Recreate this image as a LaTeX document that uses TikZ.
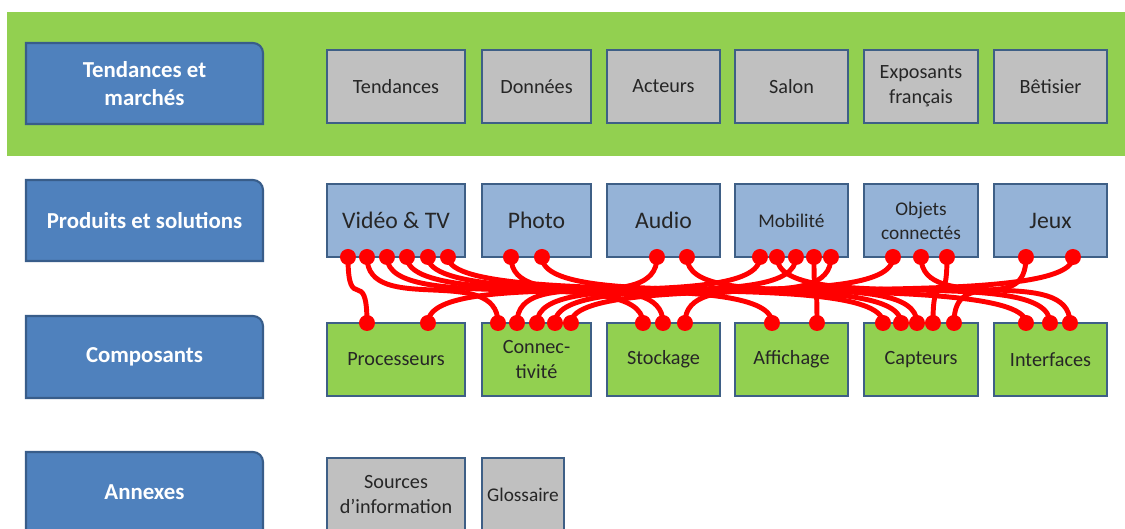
\documentclass[tikz,border=0pt]{standalone}
\usepackage{fontspec}
\setmainfont{Carlito}
\usepackage{tikz}
\definecolor{bandgreen}{HTML}{92D050}
\definecolor{tabblue}{HTML}{4F81BD}
\definecolor{tabedge}{HTML}{385D8A}
\definecolor{boxedge}{HTML}{3E5F86}
\definecolor{boxgray}{HTML}{C0C0C0}
\definecolor{boxblue}{HTML}{95B3D7}
\definecolor{txtdark}{HTML}{262626}

\begin{document}
\begin{tikzpicture}[scale=0.2]
\tikzstyle{every node}+=[inner sep=0pt]
\tikzstyle{tab}=[fill=tabblue, draw=tabedge, line width=1.2pt]
\tikzstyle{tablabel}=[text=white, font=\fontsize{13}{16}\selectfont\bfseries, align=center]
\tikzstyle{box}=[draw=boxedge, line width=1.6pt, text=txtdark, font=\fontsize{11.5}{14}\selectfont, align=center, minimum height=1.46cm]
\tikzstyle{graybox}=[box, fill=boxgray]
\tikzstyle{bluebox}=[box, fill=boxblue]
\tikzstyle{greenbox}=[box, fill=bandgreen]
\tikzstyle{big}=[font=\fontsize{13.5}{15}\selectfont]
\tikzstyle{small}=[font=\fontsize{11}{13.5}\selectfont]
\tikzstyle{wire}=[red, line width=2.8pt]
\useasboundingbox (0,0) rectangle (112.5,-52.9);
\fill [white] (0,0) rectangle (112.5,-52.9);
\fill [bandgreen] (0.7,-1.2) rectangle (112.5,-15.6);
\filldraw [tab] (2.6,-12.4) -- (2.6,-4.3) -- (25.3,-4.3) arc (90:0:1) -- (26.3,-12.4) -- cycle;
\node [tablabel] (tend) at (14.45,-8.35) {Tendances et\\marchés};
\filldraw [tab] (2.6,-26.1) -- (2.6,-18.0) -- (25.3,-18.0) arc (90:0:1) -- (26.3,-26.1) -- cycle;
\node [tablabel] (prod) at (14.45,-22.05) {Produits et solutions};
\filldraw [tab] (2.6,-39.8) -- (2.6,-31.6) -- (25.3,-31.6) arc (90:0:1) -- (26.3,-39.8) -- cycle;
\node [tablabel] (comp) at (14.45,-35.7) {Composants};
\filldraw [tab] (2.6,-53.3) -- (2.6,-45.2) -- (25.3,-45.2) arc (90:0:1) -- (26.3,-53.3) -- cycle;
\node [tablabel] (annex) at (14.45,-49.25) {Annexes};
\node [graybox, minimum width=2.76cm] (tendb) at (39.6,-8.65) {Tendances};
\node [graybox, minimum width=2.18cm] (donn) at (53.65,-8.65) {Données};
\node [graybox, minimum width=2.26cm] (act) at (66.35,-8.65) {Acteurs};
\node [graybox, minimum width=2.26cm] (salon) at (79.15,-8.65) {Salon};
\node [graybox, minimum width=2.28cm] (expo) at (92.1,-8.65) {Exposants\\français};
\node [graybox, minimum width=2.26cm] (betis) at (105.05,-8.65) {Bêtisier};
\node [bluebox, big, minimum width=2.76cm] (video) at (39.6,-22.05) {Vidéo \& TV};
\node [bluebox, big, minimum width=2.18cm] (photo) at (53.65,-22.05) {Photo};
\node [bluebox, big, minimum width=2.26cm] (audio) at (66.35,-22.05) {Audio};
\node [bluebox, small, minimum width=2.26cm] (mobil) at (79.15,-22.05) {Mobilité};
\node [bluebox, small, minimum width=2.28cm] (objets) at (92.1,-22.05) {Objets\\connectés};
\node [bluebox, big, minimum width=2.26cm] (jeux) at (105.05,-22.05) {Jeux};
\node [greenbox, minimum width=2.76cm] (proc) at (39.6,-35.95) {Processeurs};
\node [greenbox, minimum width=2.18cm] (connec) at (53.65,-35.95) {Connec-\\tivité};
\node [greenbox, minimum width=2.26cm] (stock) at (66.35,-35.95) {Stockage};
\node [greenbox, minimum width=2.26cm] (affich) at (79.15,-35.95) {Affichage};
\node [greenbox, minimum width=2.28cm] (capt) at (92.1,-35.95) {Capteurs};
\node [greenbox, minimum width=2.26cm] (interf) at (105.05,-35.95) {Interfaces};
\node [graybox, minimum width=2.76cm] (sources) at (39.6,-49.45) {Sources\\d’information};
\node [graybox, small, minimum width=1.64cm] (gloss) at (52.3,-49.45) {Glossaire};
\foreach \n/\x in {v1/34.8,v2/36.7,v3/38.7,v4/40.7,v5/42.8,v6/44.8,p1/51.1,p2/54.2,a1/65.7,a2/68.7,
  m1/76.0,m2/77.7,m3/79.6,m4/81.4,m5/83.1,o1/89.3,o2/92.1,o3/94.7,j1/102.6,j2/107.3}
  \coordinate (\n) at (\x,-25.7);
\foreach \n/\x in {pr1/36.7,pr2/42.8,c1/49.8,c2/51.7,c3/53.7,c4/55.5,c5/57.1,s1/64.3,s2/66.3,s3/68.5,
  af1/77.2,af2/81.7,ca1/88.3,ca2/90.1,ca3/91.7,ca4/93.3,ca5/95.4,i1/102.6,i2/105.0,i3/107.0}
  \coordinate (\n) at (\x,-32.3);
\foreach \a/\b in {v1/pr1,v2/c1,v3/s1,v4/af1,v5/ca1,v6/i1,p1/s2,p2/ca2,a1/c2,a2/ca3,
  m1/pr2,m2/i2,m3/c3,m4/af2,m5/s3,o1/c4,o2/i3,o3/ca4,j1/ca5,j2/c5}
  \draw [wire] (\a) .. controls +(0,-6) and +(0,6) .. (\b);
\foreach \n in {v1,v2,v3,v4,v5,v6,p1,p2,a1,a2,m1,m2,m3,m4,m5,o1,o2,o3,j1,j2,
  pr1,pr2,c1,c2,c3,c4,c5,s1,s2,s3,af1,af2,ca1,ca2,ca3,ca4,ca5,i1,i2,i3}
  \fill [red] (\n) circle (0.8);
\end{tikzpicture}
\end{document}
